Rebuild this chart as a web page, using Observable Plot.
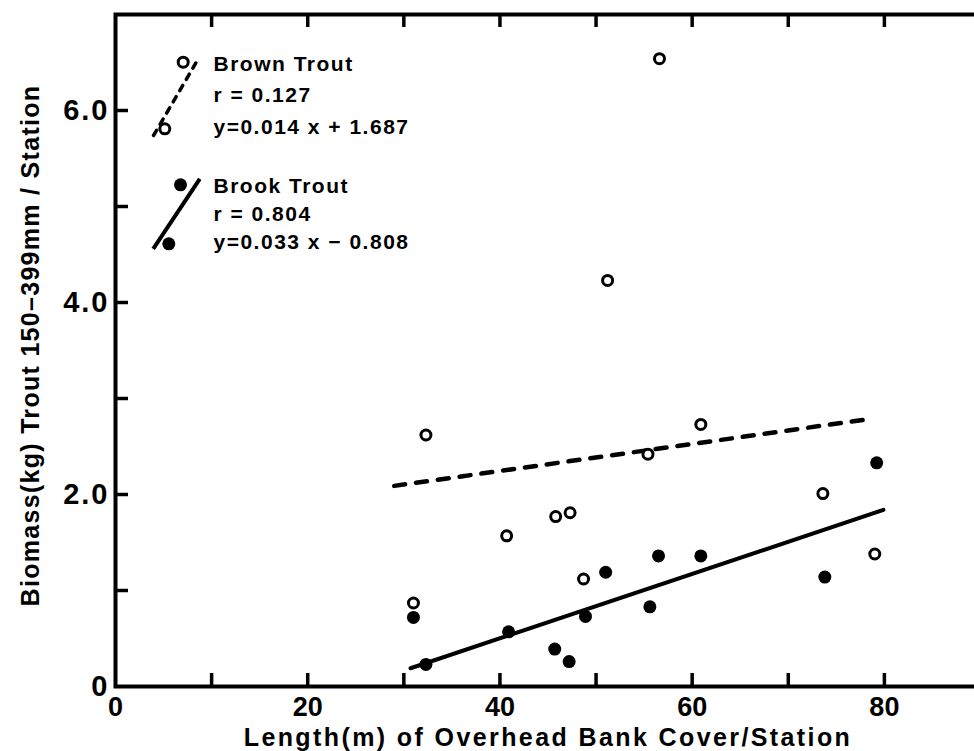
<!DOCTYPE html>
<html><head><meta charset="utf-8">
<script src="https://cdn.jsdelivr.net/npm/d3@7"></script>
<script src="https://cdn.jsdelivr.net/npm/@observablehq/plot@0.6"></script>
<style>
html,body{margin:0;padding:0;background:#fff;overflow:hidden;}
svg{max-width:none !important;}
.lg text{letter-spacing:1.5px;}
.xl text{letter-spacing:2.4px;}
.yl text{letter-spacing:1.3px;}
.yt text{letter-spacing:2px;}
</style></head><body><div id="chart"></div>
<script>
// Brown trout (open circles)
const brownX = [31.0, 32.3, 40.7, 45.8, 47.3, 48.7, 51.2, 55.4, 56.6, 60.9, 73.6, 79.0];
const brownY = [0.87, 2.62, 1.57, 1.77, 1.81, 1.12, 4.23, 2.42, 6.54, 2.73, 2.01, 1.38];
// Brook trout (filled circles)
const brookX = [31.0, 32.3, 40.9, 45.7, 47.2, 48.9, 51.0, 55.6, 56.5, 60.9, 73.8, 79.2];
const brookY = [0.72, 0.23, 0.57, 0.39, 0.26, 0.73, 1.19, 0.83, 1.36, 1.36, 1.14, 2.33];
// Regression line end points
const brownFitX = [29.0, 78.7];
const brownFitY = [2.09, 2.79];
const brookFitX = [30.7, 79.9];
const brookFitY = [0.19, 1.84];
// Ticks
const xTickLabels = [0, 20, 40, 60, 80];
const xTicks = [10, 20, 30, 40, 50, 60, 70, 80];
const yTickLabels = [0, 2, 4, 6];
const yTicks = [1, 2, 3, 4, 5, 6];
// Texts
const xLabel = "Length(m) of Overhead Bank Cover/Station";
const yLabel = "Biomass(kg) Trout 150–399mm / Station";
const legendBrown = ["Brown Trout", "r = 0.127", "y=0.014 x + 1.687"];
const legendBrook = ["Brook Trout", "r = 0.804", "y=0.033 x − 0.808"];

const FONT = "'Liberation Sans', Arial, sans-serif";
const pts = (X, Y) => X.map((x, i) => ({x, y: Y[i]}));

const slash = (hx, hy) => ({draw(ctx) { ctx.moveTo(-hx, hy); ctx.lineTo(hx, -hy); }});

const legendLines = (arr, dys) => arr.map((t, i) => Plot.text([t], {
  frameAnchor: "top-left", dx: 98, dy: dys[i], textAnchor: "start", lineAnchor: "bottom",
  fontSize: 21, fontWeight: "bold", fill: "black", className: "lg"
}));

const chart = Plot.plot({
  width: 985, height: 751,
  marginLeft: 115, marginRight: 5, marginTop: 14, marginBottom: 65,
  style: {fontFamily: FONT, fontWeight: "bold", color: "black", background: "white", maxWidth: "none"},
  x: {domain: [0, 90]},
  y: {domain: [0, 7]},
  marks: [
    Plot.frame({stroke: "black", strokeWidth: 4}),
    // tick marks (inward)
    Plot.axisX(xTicks, {anchor: "bottom", tickSize: 13, dy: -13, fill: "none", strokeWidth: 3.5, label: null}),
    Plot.axisX(xTicks, {anchor: "top", tickSize: 12, dy: 12, fill: "none", strokeWidth: 3.5, label: null}),
    Plot.axisY(yTicks, {anchor: "left", tickSize: 13, dx: 13, fill: "none", strokeWidth: 3.5, label: null}),
    Plot.axisY(yTicks, {anchor: "right", tickSize: 7, dx: -7, fill: "none", strokeWidth: 3.5, label: null}),
    // tick labels
    Plot.axisX(xTickLabels, {anchor: "bottom", tickSize: 0, tickPadding: 10, fontSize: 27, label: null, tickFormat: d => String(d)}),
    Plot.axisY(yTickLabels, {anchor: "left", tickSize: 0, tickPadding: 6, fontSize: 29, label: null, className: "yt",
      tickFormat: d => d === 0 ? "0" : d.toFixed(1)}),
    // axis titles
    Plot.text([xLabel], {frameAnchor: "bottom", dy: 51, textAnchor: "middle", lineAnchor: "middle", fontSize: 25, fontWeight: "bold", className: "xl"}),
    Plot.text([yLabel], {frameAnchor: "left", dx: -85, dy: -5, rotate: -90, textAnchor: "middle", lineAnchor: "middle", fontSize: 25, fontWeight: "bold", className: "yl"}),
    // regression lines
    Plot.line(pts(brownFitX, brownFitY), {x: "x", y: "y", stroke: "black", strokeWidth: 4.5, strokeDasharray: "11,11", strokeLinecap: "round"}),
    Plot.line(pts(brookFitX, brookFitY), {x: "x", y: "y", stroke: "black", strokeWidth: 4}),
    // data
    Plot.dot(pts(brownX, brownY), {x: "x", y: "y", r: 5, stroke: "black", strokeWidth: 3, fill: "white"}),
    Plot.dot(pts(brookX, brookY), {x: "x", y: "y", r: 6.5, fill: "black", stroke: "none"}),
    // legend keys
    Plot.dot([0], {frameAnchor: "top-left", dx: 60.5, dy: 82.5, r: 40, symbol: slash(22.5, 38.5), stroke: "black", strokeWidth: 3.5, strokeDasharray: "6,7", strokeLinecap: "round", fill: "none"}),
    Plot.dot([0], {frameAnchor: "top-left", dx: 67.7, dy: 47.7, r: 5, stroke: "black", strokeWidth: 3, fill: "white"}),
    Plot.dot([0], {frameAnchor: "top-left", dx: 49.3, dy: 114.3, r: 5, stroke: "black", strokeWidth: 3, fill: "white"}),
    Plot.dot([0], {frameAnchor: "top-left", dx: 61, dy: 199.3, r: 40, symbol: slash(23.3, 35), stroke: "black", strokeWidth: 4, fill: "none"}),
    Plot.dot([0], {frameAnchor: "top-left", dx: 65, dy: 170.3, r: 6.5, fill: "black"}),
    Plot.dot([0], {frameAnchor: "top-left", dx: 53.3, dy: 229.3, r: 6.5, fill: "black"}),
    ...legendLines(legendBrown, [56, 87.7, 119]),
    ...legendLines(legendBrook, [178.7, 206.7, 234.3])
  ]
});
document.getElementById("chart").appendChild(chart);
</script></body></html>
